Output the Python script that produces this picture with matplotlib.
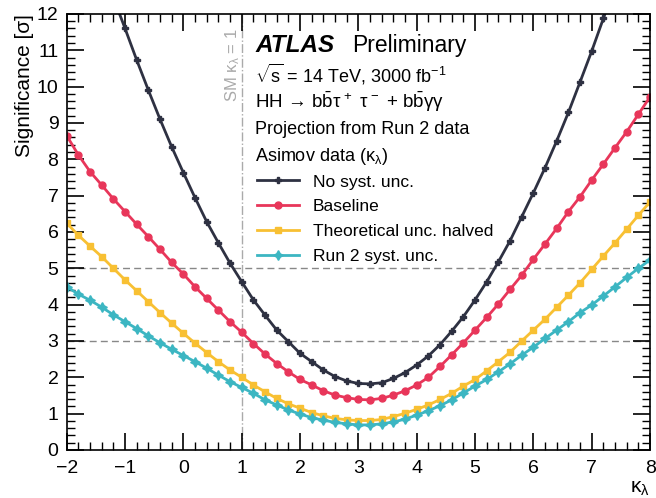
import matplotlib
matplotlib.use('Agg')
import matplotlib.pyplot as plt
from matplotlib.ticker import MultipleLocator

plt.rcParams['font.family'] = ['Liberation Sans', 'DejaVu Sans']
plt.rcParams['mathtext.fontset'] = 'custom'
plt.rcParams['mathtext.rm'] = 'Liberation Sans'
plt.rcParams['mathtext.it'] = 'Liberation Sans:italic'
plt.rcParams['mathtext.bf'] = 'Liberation Sans:bold'

# kappa_lambda scan points, step 0.2
kappa = [round(-2 + 0.2 * i, 1) for i in range(51)]

no_syst = [16.0, 15.1, 14.2, 13.3, 12.45, 11.6, 10.73, 9.90, 9.10, 8.34,
           7.63, 6.94, 6.28, 5.70, 5.14, 4.63, 4.13, 3.71, 3.30, 2.98,
           2.66, 2.43, 2.20, 2.02, 1.90, 1.83, 1.82, 1.85, 1.97, 2.13,
           2.34, 2.59, 2.90, 3.27, 3.67, 4.13, 4.63, 5.18, 5.76, 6.42,
           7.08, 7.77, 8.51, 9.29, 10.13, 10.98, 11.88, 12.8, 13.7, 14.7,
           15.7]
baseline = [8.65, 8.12, 7.66, 7.29, 6.91, 6.56, 6.21, 5.87, 5.52, 5.16,
            4.84, 4.49, 4.17, 3.85, 3.53, 3.24, 2.93, 2.64, 2.38, 2.15,
            1.94, 1.79, 1.63, 1.51, 1.44, 1.39, 1.38, 1.42, 1.51, 1.63,
            1.79, 2.00, 2.30, 2.62, 2.95, 3.30, 3.65, 4.02, 4.42, 4.81,
            5.25, 5.67, 6.10, 6.56, 6.97, 7.43, 7.87, 8.32, 8.76, 9.24,
            9.72]
theo_halved = [6.24, 5.91, 5.61, 5.32, 5.00, 4.68, 4.38, 4.08, 3.78, 3.49,
               3.21, 2.94, 2.68, 2.43, 2.20, 2.00, 1.79, 1.60, 1.42, 1.27,
               1.15, 1.03, 0.94, 0.87, 0.83, 0.81, 0.81, 0.84, 0.92, 1.01,
               1.12, 1.24, 1.39, 1.56, 1.76, 1.94, 2.18, 2.43, 2.69, 3.00,
               3.30, 3.60, 3.93, 4.26, 4.60, 4.97, 5.34, 5.70, 6.08, 6.46,
               6.83]
run2_syst = [4.49, 4.29, 4.12, 3.93, 3.72, 3.53, 3.34, 3.14, 2.95, 2.77,
             2.60, 2.43, 2.25, 2.06, 1.88, 1.72, 1.56, 1.38, 1.24, 1.10,
             0.99, 0.89, 0.82, 0.76, 0.72, 0.69, 0.69, 0.72, 0.77, 0.85,
             0.96, 1.08, 1.22, 1.38, 1.57, 1.76, 1.94, 2.15, 2.37, 2.61,
             2.83, 3.07, 3.30, 3.53, 3.78, 3.99, 4.24, 4.49, 4.75, 5.00,
             5.23]

labels = ['No syst. unc.', 'Baseline', 'Theoretical unc. halved', 'Run 2 syst. unc.']
colors = ['#2e3142', '#e8365a', '#f8c033', '#3cb6c2']
markers = ['P', 'o', 's', (4, 1, 0)]
msizes = [4.5, 5, 5, 7]

fig = plt.figure(figsize=(6.56, 4.98), dpi=100)
ax = fig.add_axes([0.1017, 0.0964, 0.8893, 0.8756])

for ys, lab, c, m, ms in zip([no_syst, baseline, theo_halved, run2_syst], labels, colors, markers, msizes):
    ax.plot(kappa, ys, color=c, marker=m, markersize=ms, linewidth=2, label=lab)

ax.axhline(5, color='#888888', linestyle=(0, (5, 3)), linewidth=1, zorder=0)
ax.axhline(3, color='#888888', linestyle=(0, (5, 3)), linewidth=1, zorder=0)
ax.axvline(1, color='#aaaaaa', linestyle='-.', linewidth=1, zorder=0)
ax.text(0.84, 11.6, 'SM $\\mathrm{\\kappa_{\\lambda}}$ = 1', rotation=90, color='#aaaaaa',
        ha='center', va='top', fontsize=12)

ax.set_xlim(-2, 8)
ax.set_ylim(0, 12)
ax.xaxis.set_major_locator(MultipleLocator(1))
ax.xaxis.set_minor_locator(MultipleLocator(0.2))
ax.yaxis.set_major_locator(MultipleLocator(1))
ax.yaxis.set_minor_locator(MultipleLocator(0.2))
ax.tick_params(which='both', direction='in', top=True, right=True, labelsize=14)
ax.tick_params(which='major', length=12, width=1.2)
ax.tick_params(which='minor', length=6, width=1)
ax.tick_params(axis='x', pad=7)
ax.tick_params(axis='y', pad=6)
for s in ax.spines.values():
    s.set_linewidth(1.2)

ax.set_ylabel('Significance [σ]', loc='top', fontsize=15, labelpad=2)
ax.set_xlabel('κ$_{\\mathrm{λ}}$', loc='right', fontsize=15, labelpad=2)

tx = 0.323
ax.text(tx, 0.927, 'ATLAS', transform=ax.transAxes, fontsize=17.5, fontweight='bold',
        fontstyle='italic', va='center')
ax.text(tx + 0.167, 0.927, 'Preliminary', transform=ax.transAxes, fontsize=16.5, va='center')
ax.text(tx, 0.862, '$\\sqrt{\\mathrm{s}}$ = 14 TeV, 3000 fb$^{-1}$', transform=ax.transAxes,
        fontsize=13, va='center')
ax.text(tx, 0.798,
        'HH → b$\\bar{\\mathrm{b}}$τ$^{\\,+}$ τ$^{\\,-}$ + b$\\bar{\\mathrm{b}}$γγ',
        transform=ax.transAxes, fontsize=13.5, va='center')
ax.text(tx, 0.734, 'Projection from Run 2 data', transform=ax.transAxes, fontsize=13, va='center')
ax.text(tx, 0.672, 'Asimov data (κ$_{\\mathrm{λ}}$)', transform=ax.transAxes, fontsize=13,
        va='center')

ax.legend(loc='upper left', bbox_to_anchor=(tx - 0.008, 0.648), frameon=False, fontsize=12.5,
          handlelength=2.4, labelspacing=0.55, borderaxespad=0, handletextpad=0.8)

fig.savefig('out.png', dpi=100)
